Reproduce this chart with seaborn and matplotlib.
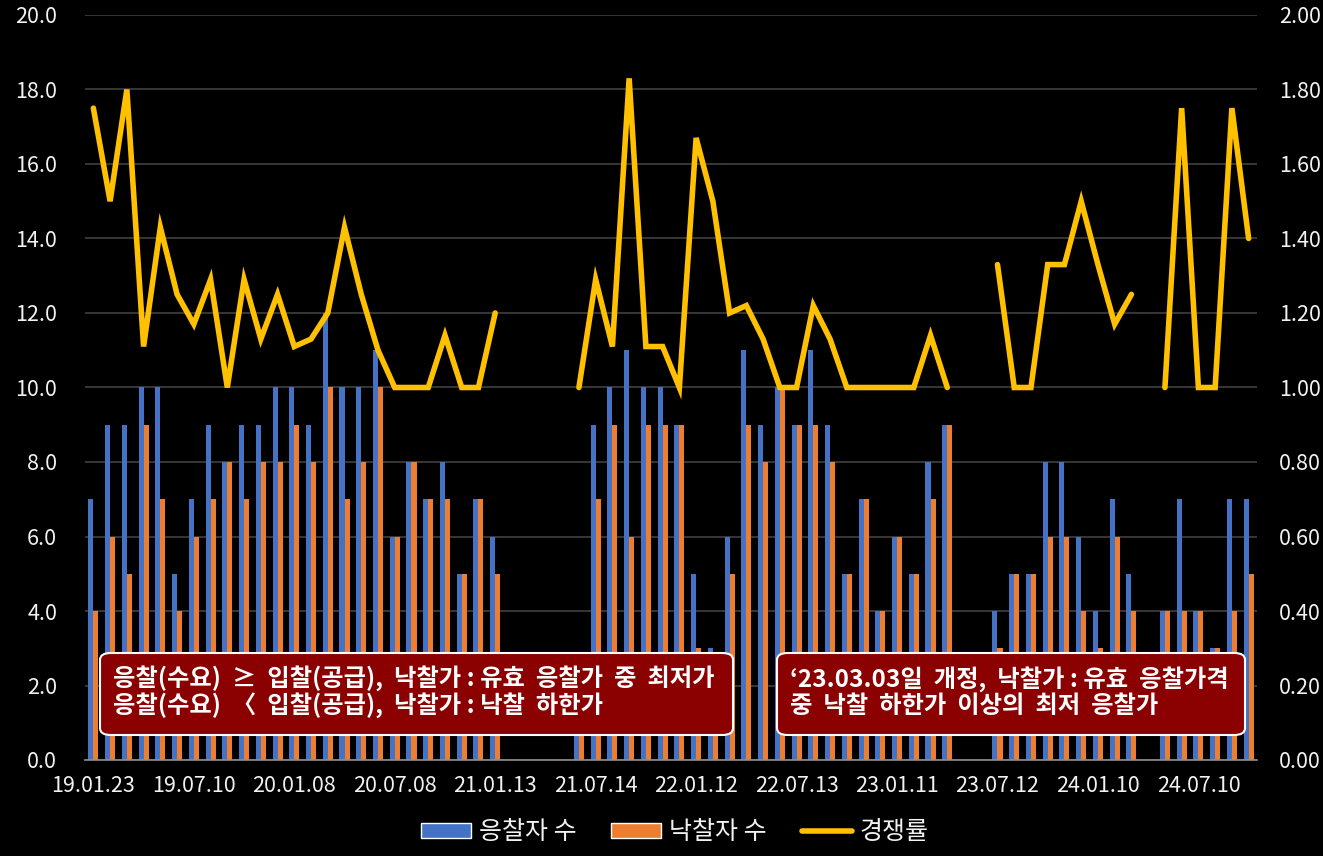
import numpy as np
import pandas as pd
import matplotlib
matplotlib.use("Agg")
import matplotlib.pyplot as plt
import seaborn as sns
from matplotlib.patches import Patch, FancyBboxPatch
from matplotlib.lines import Line2D

nan = np.nan
# 응찰자 수 (bidders) per auction round
bidders = [7, 9, 9, 10, 10, 5, 7, 9, 8, 9, 9, 10, 10, 9, 12, 10, 10, 11,
           6, 8, 7, 8, 5, 7, 6, nan, nan, nan, nan, 2, 9, 10, 11, 10, 10, 9,
           5, 3, 6, 11, 9, 10, 9, 11, 9, 5, 7, 4, 6, 5, 8, 9, nan, nan,
           4, 5, 5, 8, 8, 6, 4, 7, 5, nan, 4, 7, 4, 3, 7, 7]
# 낙찰자 수 (winners)
winners = [4, 6, 5, 9, 7, 4, 6, 7, 8, 7, 8, 8, 9, 8, 10, 7, 8, 10,
           6, 8, 7, 7, 5, 7, 5, nan, nan, nan, nan, 2, 7, 9, 6, 9, 9, 9,
           3, 2, 5, 9, 8, 10, 9, 9, 8, 5, 7, 4, 6, 5, 7, 9, nan, nan,
           3, 5, 5, 6, 6, 4, 3, 6, 4, nan, 4, 4, 4, 3, 4, 5]
# 경쟁률 (competition ratio, right axis)
ratio = [1.75, 1.50, 1.80, 1.11, 1.43, 1.25, 1.17, 1.29, 1.00, 1.29, 1.13, 1.25,
         1.11, 1.13, 1.20, 1.43, 1.25, 1.10, 1.00, 1.00, 1.00, 1.14, 1.00, 1.00,
         1.20, nan, nan, nan, nan, 1.00, 1.29, 1.11, 1.83, 1.11, 1.11, 1.00,
         1.67, 1.50, 1.20, 1.22, 1.13, 1.00, 1.00, 1.22, 1.13, 1.00, 1.00, 1.00,
         1.00, 1.00, 1.14, 1.00, nan, nan, 1.33, 1.00, 1.00, 1.33, 1.33, 1.50,
         1.33, 1.17, 1.25, nan, 1.00, 1.75, 1.00, 1.00, 1.75, 1.40]
tick_labels = ["19.01.23", "19.07.10", "20.01.08", "20.07.08", "21.01.13", "21.07.14",
               "22.01.12", "22.07.13", "23.01.11", "23.07.12", "24.01.10", "24.07.10"]
series_names = ["응찰자 수", "낙찰자 수", "경쟁률"]
note1 = "응찰(수요)  ≥  입찰(공급),  낙찰가 : 유효  응찰가  중  최저가\n응찰(수요)  〈  입찰(공급),  낙찰가 : 낙찰  하한가"
note2 = "‘23.03.03일  개정,  낙찰가 : 유효  응찰가격\n중  낙찰  하한가  이상의  최저  응찰가"

sns.set_theme(style="dark")
plt.rcParams["font.family"] = ["Noto Sans CJK KR", "DejaVu Sans"]

BLUE, ORANGE, GOLD = "#4472C4", "#ED7D31", "#FFC000"
TXT = "#F2F2F2"
n = len(bidders)
idx = list(range(n))

df = pd.DataFrame({
    "idx": idx * 2,
    "value": bidders + winners,
    "series": [series_names[0]] * n + [series_names[1]] * n,
})

fig = plt.figure(figsize=(13.23, 8.56), dpi=100, facecolor="black")
ax = fig.add_axes([85 / 1323, 96 / 856, 1172 / 1323, 745 / 856])
ax.set_facecolor("black")

sns.barplot(data=df, x="idx", y="value", hue="series", order=idx,
            palette=[BLUE, ORANGE], width=0.6, gap=0, saturation=1,
            linewidth=0, ax=ax, legend=False, errorbar=None)

ax.set_xlim(-0.5, n - 0.5)
ax.set_ylim(0, 20)
ax.set_yticks(np.arange(0, 20.1, 2))
ax.set_yticklabels([f"{v:.1f}" for v in np.arange(0, 20.1, 2)])
ax.set_xticks(list(range(0, n, 6)))
ax.set_xticklabels(tick_labels)
ax.grid(axis="y", color="#404040", linewidth=1.2)
ax.grid(axis="x", visible=False)
ax.set_axisbelow(True)
for s in ["top", "left", "right"]:
    ax.spines[s].set_visible(False)
ax.spines["bottom"].set_color("#909090")
ax.spines["bottom"].set_linewidth(1.2)
ax.tick_params(axis="x", colors=TXT, labelsize=15.5, length=0, pad=11)
ax.tick_params(axis="y", colors=TXT, labelsize=15.5, length=0, pad=20)
ax.set_xlabel("")
ax.set_ylabel("")

# line on secondary axis, broken into segments at gaps
seg = []
s = 0
prev_nan = True
for v in ratio:
    if np.isnan(v):
        prev_nan = True
        seg.append(-1)
    else:
        if prev_nan:
            s += 1
        prev_nan = False
        seg.append(s)
ldf = pd.DataFrame({"idx": idx, "ratio": ratio, "seg": seg})
ldf = ldf[ldf["seg"] >= 0]

ax2 = ax.twinx()
sns.lineplot(data=ldf, x="idx", y="ratio", units="seg", estimator=None,
             color=GOLD, linewidth=4, ax=ax2, solid_joinstyle="miter")
ax2.set_xlim(-0.5, n - 0.5)
ax2.set_ylim(0, 2.0)
ax2.set_yticks(np.arange(0, 2.01, 0.2))
ax2.set_yticklabels([f"{v:.2f}" for v in np.arange(0, 2.01, 0.2)])
ax2.tick_params(axis="y", colors=TXT, labelsize=15.5, length=0, pad=16)
ax2.set_ylabel("")
ax2.set_xlabel("")
for s_ in ax2.spines.values():
    s_.set_visible(False)

# annotation boxes
for (x0, x1, txt) in [(100, 733, note1), (777, 1245, note2)]:
    y0, y1 = 856 - 735, 856 - 653
    box = FancyBboxPatch((x0 / 1323, y0 / 856), (x1 - x0) / 1323, (y1 - y0) / 856,
                         boxstyle="round,pad=0,rounding_size=0.008",
                         transform=fig.transFigure, facecolor="#8B0000",
                         edgecolor="white", linewidth=1.5, zorder=10)
    fig.add_artist(box)
    fig.text((x0 + 13) / 1323, (y0 + y1) / 2 / 856 + 0.002, txt, color="white",
             fontsize=17.5, fontweight="bold", va="center", ha="left",
             linespacing=1.12, zorder=11)

handles = [Patch(facecolor=BLUE), Patch(facecolor=ORANGE),
           Line2D([0], [0], color=GOLD, linewidth=4)]
leg = fig.legend(handles, series_names, loc="lower center", ncol=3,
                 bbox_to_anchor=(0.51, -0.014), frameon=False, fontsize=18,
                 labelcolor=TXT, handlelength=2.0, handletextpad=0.3,
                 columnspacing=1.4, handleheight=0.55)

fig.savefig("out.png", dpi=100, facecolor="black")
